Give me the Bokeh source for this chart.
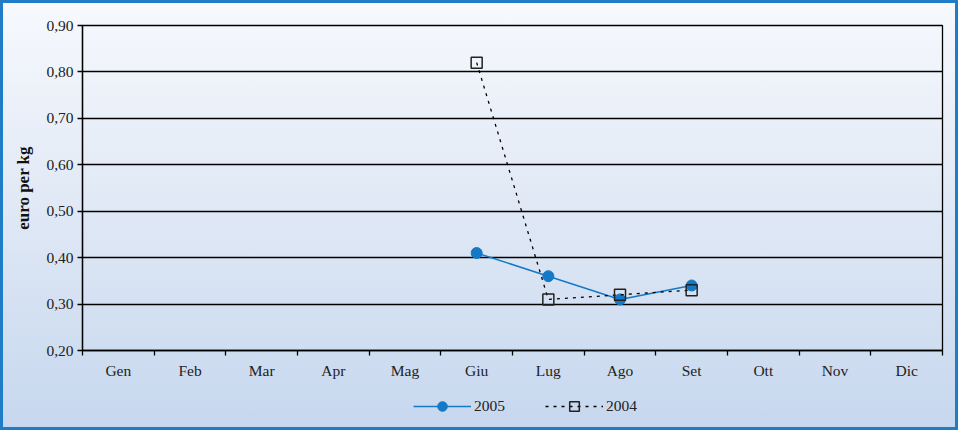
from bokeh.plotting import figure
from bokeh.layouts import column
from bokeh.models import FixedTicker, Range1d, Legend, LegendItem, ColumnDataSource
from bokeh.embed import file_html
from bokeh.resources import INLINE

# ---- data ----
months = ["Gen", "Feb", "Mar", "Apr", "Mag", "Giu", "Lug", "Ago", "Set", "Ott", "Nov", "Dic"]
months_2005 = ["Giu", "Lug", "Ago", "Set"]
values_2005 = [0.41, 0.36, 0.31, 0.34]
months_2004 = ["Giu", "Lug", "Ago", "Set"]
values_2004 = [0.82, 0.31, 0.32, 0.33]
y_ticks = [0.2, 0.3, 0.4, 0.5, 0.6, 0.7, 0.8, 0.9]
y_tick_labels = ["0,20", "0,30", "0,40", "0,50", "0,60", "0,70", "0,80", "0,90"]
y_label = "euro per kg"
series_names = ["2005", "2004"]

FONT = "Liberation Serif"
BLUE = "#1479c7"

centers = [i + 0.5 for i in range(len(months))]
pos = {m: i + 0.5 for i, m in enumerate(months)}

src05 = ColumnDataSource(dict(x=[pos[m] for m in months_2005], y=values_2005))
src04 = ColumnDataSource(dict(x=[pos[m] for m in months_2004], y=values_2004))

W, H_MAIN, H_LEG = 958, 382, 48

p = figure(width=W, height=H_MAIN, output_backend="svg", toolbar_location=None,
           x_range=Range1d(0, len(months)), y_range=Range1d(y_ticks[0], y_ticks[-1]),
           min_border_left=82, min_border_right=16, min_border_top=25, min_border_bottom=32)
p.border_fill_color = None
p.background_fill_color = None
p.outline_line_color = "black"
p.outline_line_width = 1.3


def draw_series(fig):
    l05 = fig.line("x", "y", source=src05, line_color=BLUE, line_width=1.5)
    m05 = fig.scatter("x", "y", source=src05, marker="circle", size=11,
                      fill_color=BLUE, line_color=BLUE)
    l04 = fig.line("x", "y", source=src04, line_color="black", line_width=1.3, line_dash="3 5")
    m04 = fig.scatter("x", "y", source=src04, marker="square", size=11, fill_color=None,
                      line_color="#222222", line_width=1.5)
    return [l05, m05], [l04, m04]


draw_series(p)

# x axis
p.xaxis.ticker = FixedTicker(ticks=centers, minor_ticks=list(range(len(months) + 1)))
p.xaxis.major_label_overrides = {c: m for c, m in zip(centers, months)}
p.xaxis.major_tick_out = 0
p.xaxis.major_tick_in = 0
p.xaxis.minor_tick_out = 5
p.xaxis.minor_tick_in = 0
p.xaxis.minor_tick_line_color = "black"
p.xaxis.minor_tick_line_width = 1.3
p.xaxis.axis_line_color = "black"
p.xaxis.axis_line_width = 1.3
p.xaxis.major_label_standoff = 6
p.xaxis.major_label_text_font = FONT
p.xaxis.major_label_text_font_size = "15.5px"
p.xaxis.major_label_text_color = "#222222"
p.xgrid.visible = False

# y axis
p.yaxis.ticker = FixedTicker(ticks=y_ticks, minor_ticks=[])
p.yaxis.major_label_overrides = {t: l for t, l in zip(y_ticks, y_tick_labels)}
p.yaxis.major_tick_out = 5
p.yaxis.major_tick_in = 0
p.yaxis.major_tick_line_width = 1.3
p.yaxis.axis_line_color = "black"
p.yaxis.axis_line_width = 1.3
p.yaxis.major_label_standoff = 4
p.yaxis.major_label_text_font = FONT
p.yaxis.major_label_text_font_size = "15.5px"
p.yaxis.major_label_text_color = "#222222"
p.yaxis.axis_label = y_label
p.yaxis.axis_label_text_font = FONT
p.yaxis.axis_label_text_font_style = "bold"
p.yaxis.axis_label_text_font_size = "17px"
p.yaxis.axis_label_text_color = "#111111"
p.yaxis.axis_label_standoff = 10
p.ygrid.grid_line_color = "black"
p.ygrid.grid_line_width = 1.3
p.ygrid.ticker = FixedTicker(ticks=y_ticks)

# legend strip (same series, drawn outside its visible range so only the legend shows)
lg = figure(width=W, height=H_LEG, output_backend="svg", toolbar_location=None,
            x_range=Range1d(100, 101), y_range=Range1d(100, 101),
            x_axis_type=None, y_axis_type=None,
            min_border_left=0, min_border_right=0, min_border_top=0, min_border_bottom=0)
lg.border_fill_color = None
lg.background_fill_color = None
lg.outline_line_color = None
lg.grid.visible = False
r05, r04 = draw_series(lg)

legend = Legend(items=[LegendItem(label=series_names[0], renderers=r05),
                       LegendItem(label=series_names[1], renderers=r04)],
                orientation="horizontal", location=(331, 12),
                background_fill_alpha=0, border_line_color=None,
                label_text_font=FONT, label_text_font_size="15.5px", label_text_color="#222222",
                glyph_width=58, glyph_height=24, label_standoff=3, spacing=40,
                padding=0, margin=0)
lg.add_layout(legend, "center")

page = column(p, lg, spacing=0, width=W, height=H_MAIN + H_LEG)
page.styles = {"background": "linear-gradient(to bottom, #f7f9fd 0%, #dfe8f5 50%, #c6d7ee 100%)",
               "outline": "3px solid #1e7dc6", "outline-offset": "-3px"}

open("out.html", "w").write(file_html(page, INLINE))
